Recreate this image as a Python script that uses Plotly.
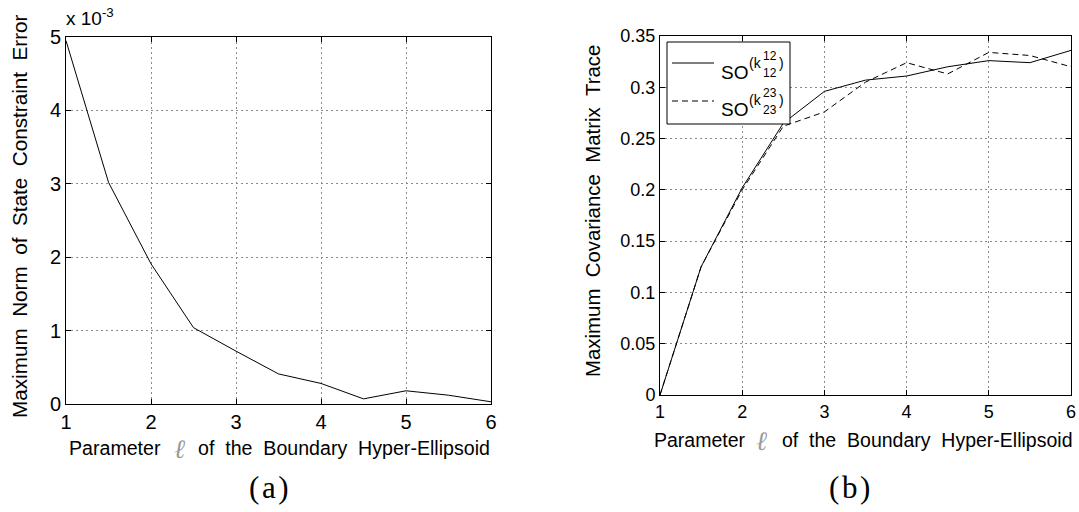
import plotly.graph_objects as go

# Figure size in pixels
W, H = 1079, 512

# Parameter l of the boundary hyper-ellipsoid (shared x grid)
ell = [1.0, 1.5, 2.0, 2.5, 3.0, 3.5, 4.0, 4.5, 5.0, 5.5, 6.0]

# (a) maximum norm of state constraint error
max_err = [4.95e-3, 3.02e-3, 1.91e-3, 1.04e-3, 0.72e-3, 0.41e-3,
           0.28e-3, 0.07e-3, 0.18e-3, 0.12e-3, 0.03e-3]
err_ticks = [0, 1e-3, 2e-3, 3e-3, 4e-3, 5e-3]
err_ticktext = ["0", "1", "2", "3", "4", "5"]

# (b) maximum covariance matrix trace for two orderings
trace_so12 = [0.0, 0.125, 0.202, 0.265, 0.296, 0.307, 0.311, 0.320, 0.326, 0.324, 0.336]
trace_so23 = [0.0, 0.125, 0.200, 0.262, 0.276, 0.305, 0.324, 0.313, 0.334, 0.331, 0.320]
trace_ticks = [0, 0.05, 0.1, 0.15, 0.2, 0.25, 0.3, 0.35]
trace_ticktext = ["0", "0.05", "0.1", "0.15", "0.2", "0.25", "0.3", "0.35"]

x_ticks = [1, 2, 3, 4, 5, 6]


def px(x):
    return x / W


def py(y):
    return 1 - y / H


SANS = "Liberation Sans, Arial, sans-serif"
SERIF = "Liberation Serif, DejaVu Serif, serif"
NB = "\u00a0"
SP = NB * 2
HAIR = "\u200a"

fig = go.Figure()

fig.add_trace(go.Scatter(x=ell, y=max_err, mode="lines",
                         line=dict(color="black", width=1),
                         xaxis="x", yaxis="y", showlegend=False))
fig.add_trace(go.Scatter(x=ell, y=trace_so12, mode="lines",
                         line=dict(color="black", width=1),
                         xaxis="x2", yaxis="y2", showlegend=False))
fig.add_trace(go.Scatter(x=ell, y=trace_so23, mode="lines",
                         line=dict(color="black", width=1, dash="6px,4px"),
                         xaxis="x2", yaxis="y2", showlegend=False))

axis_common = dict(
    showline=True, linecolor="black", linewidth=1, mirror="ticks",
    ticks="inside", ticklen=5, tickcolor="black",
    showgrid=True, gridcolor="#8a8a8a", gridwidth=1, griddash="2px,3px",
    zeroline=False, color="black", automargin=False,
)

fig.update_layout(
    width=W, height=H,
    margin=dict(l=0, r=0, t=0, b=0, autoexpand=False),
    paper_bgcolor="white", plot_bgcolor="white",
    showlegend=False,
    xaxis=dict(domain=[px(66), px(491)], range=[1, 6], tickvals=x_ticks,
               tickfont=dict(family=SANS, size=20), anchor="y", **axis_common),
    yaxis=dict(domain=[py(404), py(37)], range=[0, 5e-3], tickvals=err_ticks,
               ticktext=err_ticktext, tickfont=dict(family=SANS, size=20),
               anchor="x", **axis_common),
    xaxis2=dict(domain=[px(660), px(1071)], range=[1, 6], tickvals=x_ticks,
                tickfont=dict(family=SANS, size=18), anchor="y2", **axis_common),
    yaxis2=dict(domain=[py(395), py(36)], range=[0, 0.35], tickvals=trace_ticks,
                ticktext=trace_ticktext, tickfont=dict(family=SANS, size=18),
                anchor="x2", **axis_common),
)

annotations = [
    # y-axis titles
    dict(x=px(19), y=py(216), text=SP.join(["Maximum", "Norm", "of", "State", "Constraint", "Error"]),
         textangle=-90, font=dict(family=SANS, size=20.7)),
    dict(x=px(593), y=py(211), text=SP.join(["Maximum", "Covariance", "Matrix", "Trace"]),
         textangle=-90, font=dict(family=SANS, size=20.4)),
    # exponent label of panel (a)
    dict(x=px(64), y=py(31), xanchor="left", yanchor="bottom",
         text="x 10<sup>-3</sup>", font=dict(family=SANS, size=19)),
    # panel captions
    dict(x=px(269), y=py(487), text=f"({HAIR}a{HAIR})", font=dict(family=SERIF, size=31)),
    dict(x=px(849), y=py(487), text=f"({HAIR}b{HAIR})", font=dict(family=SERIF, size=31)),
]

# x-axis titles: "Parameter", script ell, rest of the sentence
xtitle_parts = [
    # (x_param, x_ell, x_rest, y, size)
    (67, 172, 196, 448, 19.6),
    (652, 754, 780, 440, 19.5),
]
rest = SP.join(["of", "the", "Boundary", "Hyper-Ellipsoid"])
for xp, xl, xr, yc, fs in xtitle_parts:
    annotations += [
        dict(x=px(xp), y=py(yc), xanchor="left", text="Parameter",
             font=dict(family=SANS, size=fs)),
        dict(x=px(xl), y=py(yc), xanchor="left", text="<i>ℓ</i>",
             font=dict(family="DejaVu Serif, serif", size=fs + 7, color="#9a9a9a")),
        dict(x=px(xr), y=py(yc), xanchor="left", text=rest,
             font=dict(family=SANS, size=fs)),
    ]

# legend of panel (b)
leg = dict(x0=667, y0=42, x1=790, y1=124)
shapes = [
    dict(type="rect", xref="paper", yref="paper",
         x0=px(leg["x0"]), x1=px(leg["x1"]), y0=py(leg["y1"]), y1=py(leg["y0"]),
         line=dict(color="black", width=1), fillcolor="white", layer="above"),
    dict(type="line", xref="paper", yref="paper",
         x0=px(672), x1=px(714), y0=py(63), y1=py(63),
         line=dict(color="black", width=1)),
    dict(type="line", xref="paper", yref="paper",
         x0=px(672), x1=px(714), y0=py(101), y1=py(101),
         line=dict(color="black", width=1, dash="6px,4px")),
]

legend_rows = [(72, "12", "12"), (109, "23", "23")]
for yc, up, low in legend_rows:
    annotations += [
        dict(x=px(719), y=py(yc), xanchor="left", text="SO",
             font=dict(family=SANS, size=19)),
        dict(x=px(747), y=py(yc - 9), xanchor="left", text="(k",
             font=dict(family=SANS, size=14)),
        dict(x=px(761), y=py(yc - 16), xanchor="left", text=up,
             font=dict(family=SANS, size=12)),
        dict(x=px(761), y=py(yc + 1), xanchor="left", text=low,
             font=dict(family=SANS, size=12)),
        dict(x=px(777), y=py(yc - 9), xanchor="left", text=")",
             font=dict(family=SANS, size=14)),
    ]

for a in annotations:
    a.setdefault("xref", "paper")
    a.setdefault("yref", "paper")
    a.setdefault("xanchor", "center")
    a.setdefault("yanchor", "middle")
    a.setdefault("showarrow", False)
    a.setdefault("font", {}).setdefault("color", "black")

fig.update_layout(annotations=annotations, shapes=shapes)

fig.write_html("out.html")
